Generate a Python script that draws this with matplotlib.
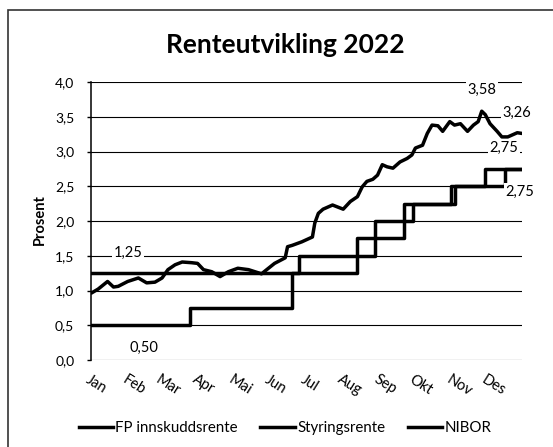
import pandas as pd
import matplotlib
matplotlib.use("Agg")
import matplotlib.pyplot as plt
import matplotlib.dates as mdates
from matplotlib.patches import Rectangle

plt.rcParams['font.family'] = ['Lato', 'DejaVu Sans']

# FP innskuddsrente (step series, change dates)
fp_dates = ["01-01", "06-26", "08-29", "09-30", "11-04", "11-30", "12-31"]
fp_vals = [1.25, 1.50, 2.00, 2.25, 2.50, 2.75, 2.75]

# Styringsrente (step series, change dates)
sty_dates = ["01-01", "03-26", "06-20", "08-14", "09-22", "11-01", "12-17", "12-31"]
sty_vals = [0.50, 0.75, 1.25, 1.75, 2.25, 2.50, 2.75, 2.75]

# NIBOR
nibor_dates = ["01-02", "01-07", "01-15", "01-20", "01-24", "02-01", "02-10", "02-17",
               "02-24", "03-02", "03-07", "03-13", "03-19", "03-27", "04-01", "04-06",
               "04-13", "04-20", "04-27", "05-05", "05-14", "05-25", "06-05", "06-14",
               "06-16", "06-20", "06-28", "07-07", "07-09", "07-12", "07-16", "07-24",
               "08-02", "08-08", "08-14", "08-18", "08-22", "08-27", "08-31", "09-04",
               "09-08", "09-13", "09-19", "09-25", "09-29", "10-02", "10-08", "10-12",
               "10-16", "10-21", "10-25", "10-31", "11-04", "11-09", "11-15", "11-20",
               "11-24", "11-27", "11-30", "12-04", "12-10", "12-14", "12-19", "12-23",
               "12-27", "12-31"]
nibor_vals = [0.97, 1.02, 1.13, 1.05, 1.06, 1.13, 1.18, 1.11,
              1.12, 1.18, 1.30, 1.37, 1.41, 1.40, 1.39, 1.30,
              1.27, 1.20, 1.27, 1.32, 1.30, 1.24, 1.39, 1.47,
              1.63, 1.65, 1.70, 1.77, 1.97, 2.11, 2.17, 2.23,
              2.17, 2.28, 2.35, 2.49, 2.57, 2.60, 2.66, 2.81,
              2.78, 2.76, 2.85, 2.90, 2.95, 3.05, 3.09, 3.26,
              3.38, 3.37, 3.29, 3.43, 3.38, 3.40, 3.29, 3.38,
              3.43, 3.58, 3.53, 3.40, 3.29, 3.21, 3.21, 3.24,
              3.27, 3.26]

months = ["Jan", "Feb", "Mar", "Apr", "Mai", "Jun", "Jul", "Aug", "Sep", "Okt", "Nov", "Des"]
yticks = [0.0, 0.5, 1.0, 1.5, 2.0, 2.5, 3.0, 3.5, 4.0]


def to_dt(lst):
    return pd.to_datetime(["2022-" + d for d in lst])


fig = plt.figure(figsize=(5.53, 4.47), dpi=100)
ax = fig.add_axes([91/553, 1 - 360/447, (522 - 91)/553, (360 - 82)/447])

lw = 2.5
ax.plot(to_dt(fp_dates), fp_vals, color='black', lw=lw, drawstyle='steps-post',
        label='FP innskuddsrente', zorder=3)
ax.plot(to_dt(sty_dates), sty_vals, color='black', lw=lw, drawstyle='steps-post',
        label='Styringsrente', zorder=3)
ax.plot(to_dt(nibor_dates), nibor_vals, color='black', lw=lw, label='NIBOR', zorder=3)

ax.set_xlim(pd.Timestamp("2022-01-01"), pd.Timestamp("2022-12-31"))
ax.set_ylim(0, 4)
ax.set_yticks(yticks)
ax.set_yticklabels([f"{v:.1f}".replace(".", ",") for v in yticks], fontsize=10)
ax.yaxis.grid(True, color='black', lw=0.8)
ax.set_axisbelow(True)
for s in ['top', 'right', 'bottom']:
    ax.spines[s].set_visible(False)
ax.spines['left'].set_linewidth(1.1)
ax.tick_params(axis='y', length=3, width=1, pad=9)

ax.xaxis.set_major_locator(mdates.MonthLocator())
ax.set_xticks(pd.date_range("2022-01-01", periods=12, freq="MS"))
ax.set_xticklabels(months, rotation=-32, ha='left', va='top',
                   rotation_mode='anchor', fontsize=10.5)
ax.tick_params(axis='x', length=0, pad=9)

# data labels
box = dict(facecolor='white', edgecolor='none', pad=1)
labels = [("1,25", "02-01", 1.54), ("0,50", "02-15", 0.17), ("3,58", "11-27", 3.88),
          ("3,26", "12-27", 3.55), ("2,75", "12-16", 3.05), ("2,75", "12-29", 2.42)]
for txt, d, y in labels:
    ax.text(pd.Timestamp("2022-" + d), y, txt, ha='center', va='center', fontsize=10.5,
            bbox=box, zorder=4, clip_on=False)

fig.text(285/553, 1 - 53/447, "Renteutvikling 2022", ha='center', va='baseline',
         fontsize=19, fontweight='bold')
fig.text(40/553, 1 - 220/447, "Prosent", rotation=90, ha='center', va='center',
         fontsize=10.5, fontweight='bold')

fig.legend(loc='center', bbox_to_anchor=(285/553, 1 - 428/447), ncol=3, frameon=False,
           fontsize=10.8, handlelength=2.3, handletextpad=0.15, columnspacing=1.5)

fig.add_artist(Rectangle((8/553, -0.1), 2, 1 - 10/447 + 0.1, transform=fig.transFigure,
                         fill=False, ec='#333333', lw=1.2))

fig.savefig("out.png", dpi=100)
